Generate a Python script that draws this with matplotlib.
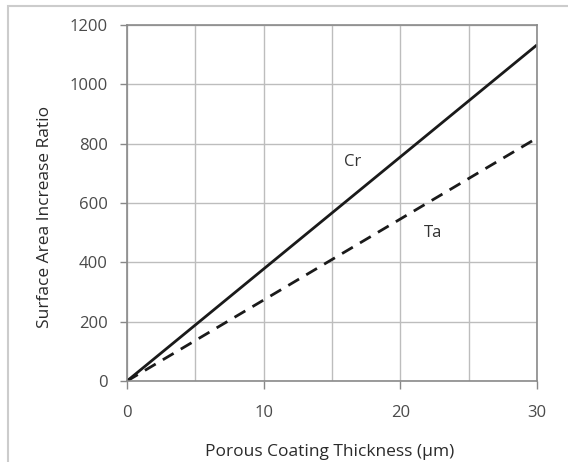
import matplotlib
matplotlib.use("Agg")
import matplotlib.pyplot as plt
from matplotlib.patches import Rectangle

# Data
thickness = [0, 30]
cr_ratio = [0, 1133]
ta_ratio = [0, 819]
x_ticks = [0, 10, 20, 30]
x_minor = [5, 15, 25]
y_ticks = [0, 200, 400, 600, 800, 1000, 1200]

plt.rcParams['font.family'] = ['Open Sans', 'DejaVu Sans']

fig = plt.figure(figsize=(5.68, 4.62), dpi=100)
ax = fig.add_axes([127/568, 1-381/462, 410/568, 356/462])

ax.plot(thickness, cr_ratio, color='#1a1a1a', lw=2.0, solid_capstyle='butt')
ax.plot(thickness, ta_ratio, color='#1a1a1a', lw=2.0, ls=(0, (4.5, 3)))

ax.text(16.5, 738, 'Cr', fontsize=12, color='#333333', ha='center', va='center')
ax.text(22.4, 499, 'Ta', fontsize=12, color='#333333', ha='center', va='center')

ax.set_xlim(0, 30)
ax.set_ylim(0, 1200)
ax.set_xticks(x_ticks)
ax.set_xticks(x_minor, minor=True)
ax.set_yticks(y_ticks)
ax.grid(True, which='both', color='#bdbdbd', lw=1.0)
ax.set_axisbelow(True)
ax.tick_params(axis='x', which='major', length=6, width=1, color='#888888', pad=11,
               labelsize=12, labelcolor='#4a4a4a', direction='out')
ax.tick_params(axis='x', which='minor', length=0)
ax.tick_params(axis='y', length=5, width=1, color='#888888', pad=9,
               labelsize=12, labelcolor='#4a4a4a', direction='out')
for s in ax.spines.values():
    s.set_color('#8a8a8a')
    s.set_linewidth(1.2)

ax.set_xlabel('Porous Coating Thickness (\u03bcm)', fontsize=12.5, color='#2a2a2a')
ax.set_ylabel('Surface Area Increase Ratio', fontsize=12.5, color='#2a2a2a')
ax.xaxis.set_label_coords(0.495, -0.2)
ax.yaxis.set_label_coords(-0.2, 0.46)
ax.xaxis.label.set_va('center')
ax.yaxis.label.set_va('center')

# figure border
fig.patches.append(Rectangle((8/568, -0.05), 1.2, 1 - 6/462 + 0.05, transform=fig.transFigure,
                             fill=False, edgecolor='#cccccc', lw=1.5))

fig.savefig('out.png', dpi=100)
